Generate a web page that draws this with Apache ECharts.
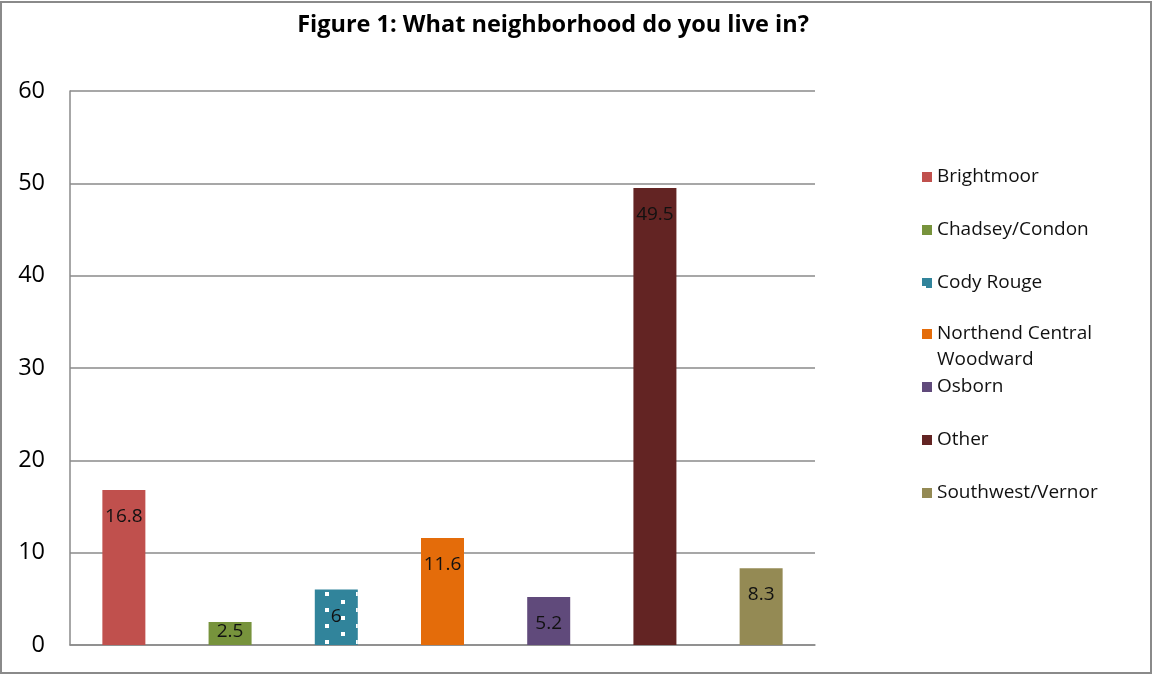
<!DOCTYPE html>
<html>
<head>
<meta charset="utf-8">
<script src="https://cdn.jsdelivr.net/npm/echarts@6/dist/echarts.min.js"></script>
<style>
html,body{margin:0;padding:0;background:#fff;}
#chart{position:absolute;left:0;top:0;width:1153px;height:675px;}
#frame{position:absolute;left:0;top:1px;width:1148px;height:669px;border:2px solid #8a8a8a;pointer-events:none;}
</style>
</head>
<body>
<div id="chart"></div>
<div id="frame"></div>
<script>
const titleText = 'Figure 1: What neighborhood do you live in?';
const categories = [''];
const seriesNames = ['Brightmoor', 'Chadsey/Condon', 'Cody Rouge', 'Northend Central Woodward', 'Osborn', 'Other', 'Southwest/Vernor'];
const seriesValues = [16.8, 2.5, 6, 11.6, 5.2, 49.5, 8.3];
const seriesColors = ['#c0504d', '#77933c', '#31849b', '#e46c0a', '#604a7b', '#632423', '#948a54'];
const yTicks = { min: 0, max: 60, interval: 10 };

const FONT = '"Open Sans", Lato, sans-serif';
const chart = echarts.init(document.getElementById('chart'));

const series = seriesNames.map((name, i) => {
  const s = {
    name: name,
    type: 'bar',
    data: [seriesValues[i]],
    barWidth: 43,
    barGap: '147%',
    itemStyle: { color: seriesColors[i] },
    label: {
      show: true,
      position: 'insideTop',
      distance: name === 'Chadsey/Condon' ? 0 : 17,
      color: '#111',
      fontSize: 19,
      fontFamily: FONT
    },
    emphasis: { disabled: true }
  };
  if (name === 'Cody Rouge') {
    s.itemStyle.decal = {
      symbol: 'rect',
      symbolSize: 1,
      color: '#ffffff',
      dashArrayX: [[4, 27], [0, 15, 4, 12]],
      dashArrayY: [4, 4],
      rotation: 0
    };
  }
  return s;
});

const LEG_FS = 19;
const richText = { a: { fontSize: LEG_FS, fontFamily: FONT, color: '#111', lineHeight: 26 } };
const legendText = { fontSize: LEG_FS, fontFamily: FONT, color: '#111', lineHeight: 26, rich: richText };
const legendFormatter = n => n === 'Northend Central Woodward'
  ? '{a|Northend Central}\n{a|Woodward}'
  : '{a|' + n + '}';
const legendBase = {
  orient: 'vertical',
  left: 922,
  padding: 0,
  itemGap: 27,
  itemWidth: 10,
  itemHeight: 10,
  icon: 'rect',
  textStyle: legendText,
  formatter: legendFormatter
};

chart.setOption({
  animation: false,
  backgroundColor: '#fff',
  title: {
    text: titleText,
    left: 553,
    textAlign: 'center',
    top: 13,
    padding: 0,
    textStyle: { fontSize: 23.5, fontWeight: 'bold', fontFamily: FONT, color: '#000' }
  },
  legend: [
    Object.assign({}, legendBase, {
      top: 164,
      data: [seriesNames[0], seriesNames[1], seriesNames[2]]
    }),
    Object.assign({}, legendBase, {
      top: 295,
      data: [{ name: seriesNames[3], textStyle: { padding: [26, 0, 0, 0] } }]
    }),
    Object.assign({}, legendBase, {
      top: 374,
      data: [seriesNames[4], seriesNames[5], seriesNames[6]]
    })
  ],
  grid: { left: 70, right: 338, top: 91, bottom: 30, containLabel: false },
  xAxis: {
    type: 'category',
    data: categories,
    axisLine: { show: true, lineStyle: { color: '#8a8a8a', width: 1.5 } },
    axisTick: { show: false },
    axisLabel: { show: false },
    splitLine: { show: false }
  },
  yAxis: {
    type: 'value',
    min: yTicks.min,
    max: yTicks.max,
    interval: yTicks.interval,
    axisLine: { show: true, lineStyle: { color: '#8a8a8a', width: 1.5 } },
    axisTick: { show: false },
    axisLabel: { fontSize: 23.5, fontFamily: FONT, color: '#000', margin: 25 },
    splitLine: { show: true, lineStyle: { color: '#8a8a8a', width: 1.5 } }
  },
  series: series
});
</script>
</body>
</html>
